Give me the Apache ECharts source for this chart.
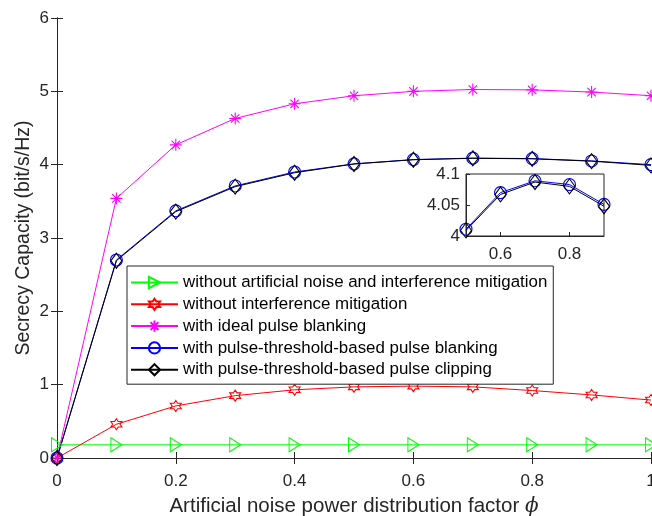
<!DOCTYPE html>
<html>
<head>
<meta charset="utf-8">
<script src="https://cdn.jsdelivr.net/npm/echarts@6/dist/echarts.min.js"></script>
<style>html,body{margin:0;padding:0;background:#fff}#c{width:652px;height:516px}</style>
</head>
<body>
<div id="c"></div>
<script>
var phi = [0, 0.1, 0.2, 0.3, 0.4, 0.5, 0.6, 0.7, 0.8, 0.9, 1.0];
var noAN = [0.18, 0.18, 0.18, 0.18, 0.18, 0.18, 0.18, 0.18, 0.18, 0.18, 0.18];
var noIM = [0, 0.46, 0.71, 0.85, 0.93, 0.97, 0.98, 0.97, 0.92, 0.86, 0.79];
var idealPB = [0, 3.54, 4.27, 4.63, 4.83, 4.94, 5.0, 5.025, 5.02, 4.99, 4.94];
var ptPB = [0, 2.70, 3.37, 3.71, 3.90, 4.011, 4.070, 4.089, 4.083, 4.051, 4.0];
var ptPC = [0, 2.69, 3.36, 3.70, 3.89, 4.009, 4.067, 4.087, 4.080, 4.048, 3.99];
var names = [
  'without artificial noise and interference mitigation',
  'without interference mitigation',
  'with ideal pulse blanking',
  'with pulse-threshold-based pulse blanking',
  'with pulse-threshold-based pulse clipping'
];
var yTicks = [0, 1, 2, 3, 4, 5, 6];
var insetX = [0.6, 0.8];
var insetY = [4, 4.05, 4.1];

function pairs(ys, from, to) {
  var out = [];
  for (var i = from; i <= to; i++) out.push([phi[i], ys[i]]);
  return out;
}
var hex = (function () {
  var p = [];
  for (var k = 0; k < 12; k++) {
    var a = Math.PI / 2 + k * Math.PI / 6;
    var r = (k % 2 === 0) ? 1 : 0.577;
    p.push((r * Math.cos(a)).toFixed(3) + ',' + (-r * Math.sin(a)).toFixed(3));
  }
  return 'path://M' + p.join(' L') + ' Z';
})();
var tri = 'path://M-1,-1 L1,0 L-1,1 Z';
var ast = 'path://M0,-1 L0,1 M-1,0 L1,0 M-0.7,-0.7 L0.7,0.7 M-0.7,0.7 L0.7,-0.7';

var AX = '#262626';
var FONT = 'Liberation Sans, Arial, Helvetica, sans-serif';

function mkSeries(name, ys, color, symbol, size, xi, yi, from, to) {
  return {
    name: name, type: 'line', xAxisIndex: xi, yAxisIndex: yi,
    data: pairs(ys, from, to),
    symbol: symbol, symbolSize: size, showAllSymbol: true,
    clip: false,
    lineStyle: { color: color, width: 1 },
    itemStyle: { color: 'none', borderColor: color, borderWidth: 1.1 },
    emphasis: { disabled: true },
    animation: false
  };
}

var series = [
  mkSeries(names[0], noAN, '#00ff00', tri, [11, 14], 0, 0, 0, 10),
  mkSeries(names[1], noIM, '#ff0000', hex, 11, 0, 0, 0, 10),
  mkSeries(names[2], idealPB, '#ff00ff', ast, 12, 0, 0, 0, 10),
  mkSeries(names[3], ptPB, '#0000ff', 'circle', 12, 0, 0, 0, 10),
  mkSeries(names[4], ptPC, '#000000', 'diamond', [11, 15], 0, 0, 0, 10),
  mkSeries(names[3], ptPB, '#0000ff', 'circle', 12, 2, 2, 5, 9),
  mkSeries(names[4], ptPC, '#000000', 'diamond', [11, 15], 2, 2, 5, 9)
];

var tickStyle = { inside: true, length: 6, lineStyle: { color: AX, width: 1 } };
var lineSt = { show: true, lineStyle: { color: AX, width: 1 } };
var lblSt = { color: AX, fontSize: 17, fontFamily: FONT };

var option = {
  backgroundColor: '#fff',
  animation: false,
  grid: [
    { left: 57, top: 18, width: 594, height: 440, show: false, containLabel: false, outerBoundsMode: 'none' },
    { left: 466, top: 174, width: 138, height: 62, show: true, backgroundColor: '#fff', borderColor: AX, borderWidth: 1, containLabel: false, outerBoundsMode: 'none' }
  ],
  legend: {
    orient: 'vertical', left: 127, top: 266,
    data: names,
    itemWidth: 47, itemHeight: 14, itemGap: 4.8,
    padding: [8, 6, 6, 3],
    borderColor: AX, borderWidth: 1, backgroundColor: '#fff',
    textStyle: { color: '#000', fontSize: 16.9, lineHeight: 14, fontFamily: FONT },
    selectedMode: false
  },
  xAxis: [
    { type: 'value', gridIndex: 0, min: 0, max: 1, interval: 0.2,
      axisLine: lineSt, axisTick: tickStyle, splitLine: { show: false },
      axisLabel: Object.assign({ margin: 15 }, lblSt),
      name: '{a|Artificial noise power distribution factor }{p|ϕ}',
      nameLocation: 'middle', nameGap: 38, nameMoveOverlap: false,
      nameTextStyle: { rich: {
        a: { fontSize: 20.5, color: AX, fontFamily: FONT },
        p: { fontSize: 20, color: AX, fontStyle: 'italic', fontFamily: 'DejaVu Serif, serif' } } } },
    { type: 'value', gridIndex: 0, min: 0, max: 1, interval: 0.2, position: 'top',
      axisLine: lineSt, axisTick: tickStyle, splitLine: { show: false }, axisLabel: { show: false } },
    { type: 'value', gridIndex: 1, min: 0.5, max: 0.9,
      axisLine: lineSt, splitLine: { show: false },
      axisTick: { inside: true, length: 4, customValues: insetX, lineStyle: { color: AX } },
      axisLabel: Object.assign({ margin: 10, customValues: insetX }, lblSt) }
  ],
  yAxis: [
    { type: 'value', gridIndex: 0, min: 0, max: 6, interval: 1,
      axisLine: lineSt, axisTick: tickStyle, splitLine: { show: false },
      axisLabel: Object.assign({ margin: 8, formatter: function (v) { return yTicks.indexOf(v) >= 0 ? String(v) : ''; } }, lblSt),
      name: 'Secrecy Capacity (bit/s/Hz)', nameLocation: 'middle', nameGap: 23, nameMoveOverlap: false,
      nameTextStyle: { fontSize: 19.5, color: AX, fontFamily: FONT } },
    { type: 'value', gridIndex: 0, min: 0, max: 6, interval: 1, position: 'right',
      axisLine: lineSt, axisTick: tickStyle, splitLine: { show: false }, axisLabel: { show: false } },
    { type: 'value', gridIndex: 1, min: 4, max: 4.1,
      axisLine: lineSt, splitLine: { show: false },
      axisTick: { inside: true, length: 4, customValues: insetY, lineStyle: { color: AX } },
      axisLabel: Object.assign({ margin: 6, customValues: insetY }, lblSt) }
  ],
  series: series
};
var chart = echarts.init(document.getElementById('c'), null, { renderer: 'canvas' });
chart.setOption(option);
</script>
</body>
</html>
